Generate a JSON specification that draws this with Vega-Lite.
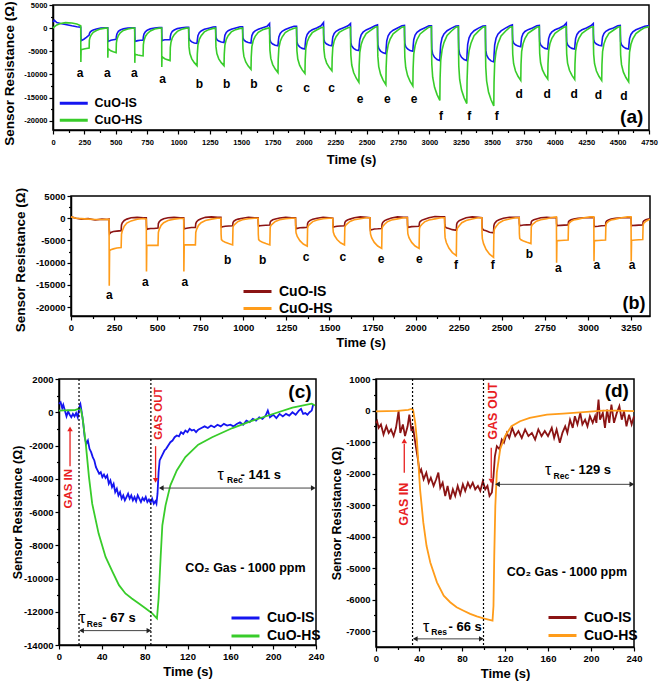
{
"$schema":"https://vega.github.io/schema/vega-lite/v6.json",
"background":"white",
"padding":{"left":0,"top":0,"right":0,"bottom":0},
"autosize":{"type":"pad"},
"columns":1,
"align":"none",
"bounds":"full",
"spacing":18,
"resolve":{"scale":{"color":"independent"},"legend":{"color":"independent"}},
"config":{
 "font":"Liberation Sans",
 "view":{"stroke":"black","strokeWidth":1.5},
 "axis":{"grid":false,"domainColor":"black","domainWidth":1.5,"tickColor":"black","tickWidth":1.2,"tickSize":4,"labelFont":"Liberation Sans","labelFontWeight":"bold","labelFontSize":9.5,"labelColor":"black","labelPadding":2,"labelFlush":false,"labelOverlap":false,"titleFont":"Liberation Sans","titleFontWeight":"bold","titleFontSize":13,"titleColor":"black","titlePadding":5},
 "legend":{"symbolType":"M-4,0H4","symbolSize":49,"symbolStrokeWidth":3,"labelFont":"Liberation Sans","labelFontWeight":"bold","labelColor":"black","labelOffset":14.5,"rowPadding":4,"padding":0},
 "text":{"font":"Liberation Sans","color":"black"}
},
"datasets":{
"A":[
{"t":0,"i":1300,"h":0},{"t":10,"i":1700,"h":300},{"t":30,"i":1200,"h":700},{"t":60,"i":1000,"h":1000},{"t":100,"i":800,"h":1200},{"t":150,"i":500,"h":1100},{"t":190,"i":300,"h":900},
{"t":221,"i":200,"h":500},{"t":222,"i":-1500,"h":-7300},{"t":224,"i":-2700,"h":-4700},{"t":231,"i":-2600,"h":-4600},{"t":246,"i":-2400,"h":-4500},{"t":266,"i":-2000,"h":-4400},{"t":288,"i":-1500,"h":-4300},{"t":290,"i":-1200,"h":-2600},{"t":295,"i":-900,"h":-2000},{"t":306,"i":-600,"h":-1400},{"t":321,"i":-400,"h":-900},{"t":346,"i":-200,"h":-500},{"t":381,"i":0,"h":-150},{"t":416,"i":100,"h":0},
{"t":436,"i":100,"h":0},{"t":437,"i":-1500,"h":-6400},{"t":439,"i":-2900,"h":-4400},{"t":446,"i":-2800,"h":-4600},{"t":461,"i":-2600,"h":-4900},{"t":481,"i":-2500,"h":-5100},{"t":503,"i":-2400,"h":-5300},{"t":505,"i":-1800,"h":-3200},{"t":510,"i":-1200,"h":-2400},{"t":521,"i":-700,"h":-1600},{"t":536,"i":-400,"h":-1000},{"t":561,"i":-150,"h":-500},{"t":596,"i":0,"h":-200},{"t":631,"i":100,"h":0},
{"t":651,"i":100,"h":0},{"t":652,"i":-1500,"h":-7500},{"t":654,"i":-2900,"h":-5600},{"t":661,"i":-2800,"h":-5700},{"t":676,"i":-2700,"h":-5800},{"t":696,"i":-2600,"h":-5900},{"t":718,"i":-2600,"h":-6000},{"t":720,"i":-1900,"h":-3600},{"t":725,"i":-1300,"h":-2700},{"t":736,"i":-800,"h":-1800},{"t":751,"i":-450,"h":-1200},{"t":776,"i":-150,"h":-600},{"t":811,"i":50,"h":-200},{"t":846,"i":150,"h":0},
{"t":866,"i":150,"h":0},{"t":867,"i":-1400,"h":-8400},{"t":869,"i":-2700,"h":-6100},{"t":876,"i":-2600,"h":-6300},{"t":891,"i":-2500,"h":-6600},{"t":911,"i":-2500,"h":-6800},{"t":933,"i":-2500,"h":-7000},{"t":935,"i":-1800,"h":-4200},{"t":940,"i":-1200,"h":-3100},{"t":951,"i":-700,"h":-2100},{"t":966,"i":-400,"h":-1400},{"t":991,"i":-100,"h":-700},{"t":1026,"i":100,"h":-250},{"t":1061,"i":200,"h":0},
{"t":1081,"i":200,"h":0},{"t":1082,"i":-990,"h":-2430},{"t":1084,"i":-2150,"h":-4050},{"t":1091,"i":-2640,"h":-5500},{"t":1106,"i":-2970,"h":-6640},{"t":1126,"i":-3200,"h":-7450},{"t":1148,"i":-3300,"h":-8100},{"t":1150,"i":-2640,"h":-5670},{"t":1155,"i":-1650,"h":-3650},{"t":1166,"i":-990,"h":-2430},{"t":1181,"i":-600,"h":-1620},{"t":1206,"i":-260,"h":-810},{"t":1241,"i":0,"h":-320},{"t":1276,"i":250,"h":-50},
{"t":1296,"i":300,"h":0},{"t":1297,"i":-930,"h":-2430},{"t":1299,"i":-2000,"h":-4050},{"t":1306,"i":-2480,"h":-5500},{"t":1321,"i":-2800,"h":-6640},{"t":1341,"i":-3000,"h":-7450},{"t":1363,"i":-3100,"h":-8100},{"t":1365,"i":-2480,"h":-5670},{"t":1370,"i":-1550,"h":-3650},{"t":1381,"i":-930,"h":-2430},{"t":1396,"i":-560,"h":-1620},{"t":1421,"i":-250,"h":-810},{"t":1456,"i":50,"h":-320},{"t":1491,"i":300,"h":-50},
{"t":1511,"i":300,"h":0},{"t":1512,"i":-960,"h":-2670},{"t":1514,"i":-2080,"h":-4450},{"t":1521,"i":-2560,"h":-6050},{"t":1536,"i":-2880,"h":-7300},{"t":1556,"i":-3100,"h":-8190},{"t":1578,"i":-3200,"h":-8900},{"t":1580,"i":-2560,"h":-6230},{"t":1585,"i":-1600,"h":-4000},{"t":1596,"i":-960,"h":-2670},{"t":1611,"i":-580,"h":-1780},{"t":1636,"i":-250,"h":-890},{"t":1671,"i":100,"h":-360},{"t":1706,"i":400,"h":-50},
{"t":1726,"i":1000,"h":100},{"t":1727,"i":-1140,"h":-2880},{"t":1729,"i":-2470,"h":-4800},{"t":1736,"i":-3040,"h":-6530},{"t":1751,"i":-3420,"h":-7870},{"t":1771,"i":-3690,"h":-8830},{"t":1793,"i":-3800,"h":-9600},{"t":1795,"i":-3040,"h":-6720},{"t":1800,"i":-1900,"h":-4320},{"t":1811,"i":-1140,"h":-2880},{"t":1826,"i":-680,"h":-1920},{"t":1851,"i":-300,"h":-960},{"t":1886,"i":100,"h":-380},{"t":1921,"i":400,"h":0},
{"t":1941,"i":400,"h":100},{"t":1942,"i":-1350,"h":-2940},{"t":1944,"i":-2930,"h":-4900},{"t":1951,"i":-3600,"h":-6660},{"t":1966,"i":-4050,"h":-8040},{"t":1986,"i":-4370,"h":-9020},{"t":2008,"i":-4500,"h":-9800},{"t":2010,"i":-3600,"h":-6860},{"t":2015,"i":-2250,"h":-4410},{"t":2026,"i":-1350,"h":-2940},{"t":2041,"i":-810,"h":-1960},{"t":2066,"i":-360,"h":-980},{"t":2101,"i":50,"h":-390},{"t":2136,"i":500,"h":100},
{"t":2156,"i":1200,"h":200},{"t":2157,"i":-1140,"h":-2760},{"t":2159,"i":-2470,"h":-4600},{"t":2166,"i":-3040,"h":-6260},{"t":2181,"i":-3420,"h":-7540},{"t":2201,"i":-3690,"h":-8460},{"t":2223,"i":-3800,"h":-9200},{"t":2225,"i":-3040,"h":-6440},{"t":2230,"i":-1900,"h":-4140},{"t":2241,"i":-1140,"h":-2760},{"t":2256,"i":-680,"h":-1840},{"t":2281,"i":-300,"h":-920},{"t":2316,"i":100,"h":-370},{"t":2351,"i":500,"h":100},
{"t":2371,"i":1000,"h":200},{"t":2372,"i":-1460,"h":-3510},{"t":2374,"i":-3150,"h":-5850},{"t":2381,"i":-3880,"h":-7960},{"t":2396,"i":-4370,"h":-9590},{"t":2416,"i":-4700,"h":-10760},{"t":2438,"i":-4850,"h":-11700},{"t":2440,"i":-3880,"h":-8190},{"t":2445,"i":-2430,"h":-5270},{"t":2456,"i":-1460,"h":-3510},{"t":2471,"i":-870,"h":-2340},{"t":2496,"i":-390,"h":-1170},{"t":2531,"i":50,"h":-470},{"t":2566,"i":500,"h":200},
{"t":2586,"i":700,"h":300},{"t":2587,"i":-1650,"h":-3660},{"t":2589,"i":-3580,"h":-6100},{"t":2596,"i":-4400,"h":-8300},{"t":2611,"i":-4950,"h":-10000},{"t":2631,"i":-5340,"h":-11220},{"t":2653,"i":-5500,"h":-12200},{"t":2655,"i":-4400,"h":-8540},{"t":2660,"i":-2750,"h":-5490},{"t":2671,"i":-1650,"h":-3660},{"t":2686,"i":-990,"h":-2440},{"t":2711,"i":-440,"h":-1220},{"t":2746,"i":50,"h":-490},{"t":2781,"i":500,"h":200},
{"t":2801,"i":600,"h":300},{"t":2802,"i":-1500,"h":-3750},{"t":2804,"i":-3250,"h":-6250},{"t":2811,"i":-4000,"h":-8500},{"t":2826,"i":-4500,"h":-10250},{"t":2846,"i":-4850,"h":-11500},{"t":2868,"i":-5000,"h":-12500},{"t":2870,"i":-4000,"h":-8750},{"t":2875,"i":-2500,"h":-5630},{"t":2886,"i":-1500,"h":-3750},{"t":2901,"i":-900,"h":-2500},{"t":2926,"i":-400,"h":-1250},{"t":2961,"i":50,"h":-500},{"t":2996,"i":500,"h":200},
{"t":3016,"i":500,"h":300},{"t":3017,"i":-2100,"h":-4680},{"t":3019,"i":-4550,"h":-7800},{"t":3026,"i":-5600,"h":-10610},{"t":3041,"i":-6300,"h":-12790},{"t":3061,"i":-6790,"h":-14350},{"t":3083,"i":-7000,"h":-15600},{"t":3085,"i":-5600,"h":-10920},{"t":3090,"i":-3500,"h":-7020},{"t":3101,"i":-2100,"h":-4680},{"t":3116,"i":-1260,"h":-3120},{"t":3141,"i":-560,"h":-1560},{"t":3176,"i":0,"h":-620},{"t":3211,"i":450,"h":200},
{"t":3231,"i":500,"h":300},{"t":3232,"i":-2100,"h":-4890},{"t":3234,"i":-4550,"h":-8150},{"t":3241,"i":-5600,"h":-11080},{"t":3256,"i":-6300,"h":-13370},{"t":3276,"i":-6790,"h":-15000},{"t":3298,"i":-7000,"h":-16300},{"t":3300,"i":-5600,"h":-11410},{"t":3305,"i":-3500,"h":-7340},{"t":3316,"i":-2100,"h":-4890},{"t":3331,"i":-1260,"h":-3260},{"t":3356,"i":-560,"h":-1630},{"t":3391,"i":0,"h":-650},{"t":3426,"i":450,"h":200},
{"t":3446,"i":500,"h":300},{"t":3447,"i":-2190,"h":-5040},{"t":3449,"i":-4750,"h":-8400},{"t":3456,"i":-5840,"h":-11420},{"t":3471,"i":-6570,"h":-13780},{"t":3491,"i":-7080,"h":-15460},{"t":3513,"i":-7300,"h":-16800},{"t":3515,"i":-5840,"h":-11760},{"t":3520,"i":-3650,"h":-7560},{"t":3531,"i":-2190,"h":-5040},{"t":3546,"i":-1310,"h":-3360},{"t":3571,"i":-580,"h":-1680},{"t":3606,"i":0,"h":-670},{"t":3641,"i":500,"h":200},
{"t":3661,"i":700,"h":300},{"t":3662,"i":-1200,"h":-3390},{"t":3664,"i":-2600,"h":-5650},{"t":3671,"i":-3200,"h":-7680},{"t":3686,"i":-3600,"h":-9270},{"t":3706,"i":-3880,"h":-10400},{"t":3728,"i":-4000,"h":-11300},{"t":3730,"i":-3200,"h":-7910},{"t":3735,"i":-2000,"h":-5090},{"t":3746,"i":-1200,"h":-3390},{"t":3761,"i":-720,"h":-2260},{"t":3786,"i":-320,"h":-1130},{"t":3821,"i":50,"h":-450},{"t":3856,"i":500,"h":200},
{"t":3876,"i":600,"h":300},{"t":3877,"i":-1350,"h":-3300},{"t":3879,"i":-2930,"h":-5500},{"t":3886,"i":-3600,"h":-7480},{"t":3901,"i":-4050,"h":-9020},{"t":3921,"i":-4370,"h":-10120},{"t":3943,"i":-4500,"h":-11000},{"t":3945,"i":-3600,"h":-7700},{"t":3950,"i":-2250,"h":-4950},{"t":3961,"i":-1350,"h":-3300},{"t":3976,"i":-810,"h":-2200},{"t":4001,"i":-360,"h":-1100},{"t":4036,"i":50,"h":-440},{"t":4071,"i":500,"h":200},
{"t":4091,"i":1100,"h":300},{"t":4092,"i":-1350,"h":-3330},{"t":4094,"i":-2930,"h":-5550},{"t":4101,"i":-3600,"h":-7550},{"t":4116,"i":-4050,"h":-9100},{"t":4136,"i":-4370,"h":-10210},{"t":4158,"i":-4500,"h":-11100},{"t":4160,"i":-3600,"h":-7770},{"t":4165,"i":-2250,"h":-5000},{"t":4176,"i":-1350,"h":-3330},{"t":4191,"i":-810,"h":-2220},{"t":4216,"i":-360,"h":-1110},{"t":4251,"i":50,"h":-440},{"t":4286,"i":500,"h":200},
{"t":4306,"i":1000,"h":300},{"t":4307,"i":-1140,"h":-3390},{"t":4309,"i":-2470,"h":-5650},{"t":4316,"i":-3040,"h":-7680},{"t":4331,"i":-3420,"h":-9270},{"t":4351,"i":-3690,"h":-10400},{"t":4373,"i":-3800,"h":-11300},{"t":4375,"i":-3040,"h":-7910},{"t":4380,"i":-1900,"h":-5090},{"t":4391,"i":-1140,"h":-3390},{"t":4406,"i":-680,"h":-2260},{"t":4431,"i":-300,"h":-1130},{"t":4466,"i":50,"h":-450},{"t":4501,"i":500,"h":200},
{"t":4521,"i":600,"h":300},{"t":4522,"i":-1350,"h":-3480},{"t":4524,"i":-2930,"h":-5800},{"t":4531,"i":-3600,"h":-7890},{"t":4546,"i":-4050,"h":-9510},{"t":4566,"i":-4370,"h":-10670},{"t":4588,"i":-4500,"h":-11600},{"t":4590,"i":-3600,"h":-8120},{"t":4595,"i":-2250,"h":-5220},{"t":4606,"i":-1350,"h":-3480},{"t":4621,"i":-810,"h":-2320},{"t":4646,"i":-360,"h":-1160},{"t":4681,"i":50,"h":-460},{"t":4716,"i":400,"h":100},{"t":4750,"i":550,"h":300}
],
"AL":[{"t":215,"v":-9760,"label":"a"},{"t":433,"v":-9760,"label":"a"},{"t":648,"v":-9760,"label":"a"},{"t":874,"v":-10900,"label":"a"},{"t":1166,"v":-11990,"label":"b"},{"t":1384,"v":-11990,"label":"b"},{"t":1602,"v":-11990,"label":"b"},{"t":1804,"v":-12850,"label":"c"},{"t":2022,"v":-12850,"label":"c"},{"t":2221,"v":-12850,"label":"c"},{"t":2447,"v":-15380,"label":"e"},{"t":2664,"v":-15380,"label":"e"},{"t":2877,"v":-15380,"label":"e"},{"t":3092,"v":-18980,"label":"f"},{"t":3318,"v":-18980,"label":"f"},{"t":3536,"v":-18980,"label":"f"},{"t":3716,"v":-14140,"label":"d"},{"t":3939,"v":-14140,"label":"d"},{"t":4154,"v":-14140,"label":"d"},{"t":4346,"v":-14400,"label":"d"},{"t":4551,"v":-14660,"label":"d"}],
"AP":[{"t":4612,"v":-19270,"label":"(a)"}],
"B":[
{"t":0,"i":300,"h":300},{"t":30,"i":0,"h":0},{"t":60,"i":-200,"h":-100},{"t":100,"i":-100,"h":-200},{"t":140,"i":-400,"h":-300},{"t":180,"i":-200,"h":-300},{"t":210,"i":-300,"h":-250},
{"t":221,"i":-200,"h":-250},{"t":222,"i":-2500,"h":-15200},{"t":224,"i":-3500,"h":-7300},{"t":231,"i":-3200,"h":-7100},{"t":246,"i":-3000,"h":-6900},{"t":266,"i":-2900,"h":-6700},{"t":291,"i":-2800,"h":-6600},{"t":293,"i":-1500,"h":-3600},{"t":298,"i":-1000,"h":-2800},{"t":309,"i":-500,"h":-1800},{"t":324,"i":-200,"h":-1100},{"t":349,"i":100,"h":-600},{"t":384,"i":200,"h":-250},{"t":419,"i":100,"h":-50},
{"t":437,"i":100,"h":-200},{"t":438,"i":-1600,"h":-12000},{"t":440,"i":-2500,"h":-6200},{"t":447,"i":-2400,"h":-6100},{"t":462,"i":-2300,"h":-6100},{"t":482,"i":-2300,"h":-6100},{"t":505,"i":-2200,"h":-6100},{"t":507,"i":-1200,"h":-3200},{"t":512,"i":-800,"h":-2500},{"t":523,"i":-400,"h":-1600},{"t":538,"i":-100,"h":-1000},{"t":563,"i":100,"h":-500},{"t":598,"i":200,"h":-200},{"t":633,"i":100,"h":-50},
{"t":654,"i":100,"h":-50},{"t":655,"i":-1600,"h":-12000},{"t":657,"i":-2400,"h":-6100},{"t":664,"i":-2300,"h":-6000},{"t":679,"i":-2200,"h":-6000},{"t":699,"i":-2100,"h":-6000},{"t":722,"i":-2100,"h":-6000},{"t":724,"i":-1200,"h":-3200},{"t":729,"i":-800,"h":-2500},{"t":740,"i":-400,"h":-1600},{"t":755,"i":-100,"h":-1000},{"t":780,"i":200,"h":-500},{"t":815,"i":300,"h":-200},{"t":850,"i":200,"h":0},
{"t":870,"i":200,"h":0},{"t":871,"i":-1400,"h":-3600},{"t":873,"i":-2000,"h":-4800},{"t":880,"i":-1900,"h":-5100},{"t":895,"i":-1800,"h":-5400},{"t":915,"i":-1760,"h":-5700},{"t":938,"i":-1700,"h":-6000},{"t":940,"i":-1000,"h":-2100},{"t":944,"i":-700,"h":-1600},{"t":955,"i":-400,"h":-1200},{"t":970,"i":-200,"h":-720},{"t":995,"i":0,"h":-360},{"t":1030,"i":200,"h":-120},{"t":1065,"i":100,"h":0},
{"t":1086,"i":100,"h":0},{"t":1087,"i":-1260,"h":-3600},{"t":1089,"i":-1800,"h":-4800},{"t":1096,"i":-1710,"h":-5100},{"t":1111,"i":-1620,"h":-5400},{"t":1131,"i":-1580,"h":-5700},{"t":1154,"i":-1530,"h":-6000},{"t":1156,"i":-900,"h":-2100},{"t":1160,"i":-630,"h":-1600},{"t":1171,"i":-360,"h":-1200},{"t":1186,"i":-180,"h":-720},{"t":1211,"i":50,"h":-360},{"t":1246,"i":200,"h":-120},{"t":1281,"i":100,"h":0},
{"t":1303,"i":100,"h":0},{"t":1304,"i":-1680,"h":-2200},{"t":1306,"i":-2400,"h":-3280},{"t":1313,"i":-2280,"h":-4100},{"t":1328,"i":-2160,"h":-5040},{"t":1348,"i":-2110,"h":-5800},{"t":1371,"i":-2040,"h":-6300},{"t":1373,"i":-1200,"h":-2200},{"t":1377,"i":-840,"h":-1700},{"t":1388,"i":-480,"h":-1260},{"t":1403,"i":-240,"h":-760},{"t":1428,"i":0,"h":-380},{"t":1463,"i":200,"h":-130},{"t":1498,"i":100,"h":0},
{"t":1519,"i":0,"h":0},{"t":1520,"i":-1400,"h":-2100},{"t":1522,"i":-2000,"h":-3120},{"t":1529,"i":-1900,"h":-3900},{"t":1544,"i":-1800,"h":-4800},{"t":1564,"i":-1760,"h":-5520},{"t":1587,"i":-1700,"h":-6000},{"t":1589,"i":-1000,"h":-2100},{"t":1593,"i":-700,"h":-1620},{"t":1604,"i":-400,"h":-1200},{"t":1619,"i":-200,"h":-720},{"t":1644,"i":100,"h":-360},{"t":1679,"i":300,"h":-120},{"t":1714,"i":200,"h":100},
{"t":1735,"i":100,"h":100},{"t":1736,"i":-1890,"h":-2380},{"t":1738,"i":-2700,"h":-3540},{"t":1745,"i":-2570,"h":-4420},{"t":1760,"i":-2430,"h":-5440},{"t":1780,"i":-2380,"h":-6260},{"t":1803,"i":-2300,"h":-6800},{"t":1805,"i":-1350,"h":-2380},{"t":1809,"i":-950,"h":-1840},{"t":1820,"i":-540,"h":-1360},{"t":1835,"i":-270,"h":-820},{"t":1860,"i":50,"h":-410},{"t":1895,"i":300,"h":-140},{"t":1930,"i":200,"h":100},
{"t":1952,"i":200,"h":100},{"t":1953,"i":-1470,"h":-2380},{"t":1955,"i":-2100,"h":-3540},{"t":1962,"i":-2000,"h":-4420},{"t":1977,"i":-1890,"h":-5440},{"t":1997,"i":-1850,"h":-6260},{"t":2020,"i":-1790,"h":-6800},{"t":2022,"i":-1050,"h":-2380},{"t":2026,"i":-740,"h":-1840},{"t":2037,"i":-420,"h":-1360},{"t":2052,"i":-210,"h":-820},{"t":2077,"i":100,"h":-410},{"t":2112,"i":400,"h":-140},{"t":2147,"i":300,"h":100},
{"t":2168,"i":300,"h":100},{"t":2169,"i":-1350,"h":-2940},{"t":2171,"i":-1890,"h":-4370},{"t":2178,"i":-2160,"h":-5460},{"t":2193,"i":-2300,"h":-6720},{"t":2213,"i":-2570,"h":-7730},{"t":2236,"i":-2700,"h":-8400},{"t":2238,"i":-1350,"h":-2940},{"t":2242,"i":-950,"h":-2270},{"t":2253,"i":-540,"h":-1680},{"t":2268,"i":-270,"h":-1010},{"t":2293,"i":100,"h":-500},{"t":2328,"i":300,"h":-170},{"t":2363,"i":200,"h":100},
{"t":2384,"i":100,"h":100},{"t":2385,"i":-1650,"h":-3080},{"t":2387,"i":-2310,"h":-4580},{"t":2394,"i":-2640,"h":-5720},{"t":2409,"i":-2800,"h":-7040},{"t":2429,"i":-3140,"h":-8100},{"t":2452,"i":-3300,"h":-8800},{"t":2454,"i":-1650,"h":-3080},{"t":2458,"i":-1160,"h":-2380},{"t":2469,"i":-660,"h":-1760},{"t":2484,"i":-330,"h":-1060},{"t":2509,"i":0,"h":-530},{"t":2544,"i":200,"h":-180},{"t":2579,"i":200,"h":100},
{"t":2601,"i":200,"h":100},{"t":2602,"i":-1190,"h":-3420},{"t":2604,"i":-1700,"h":-4560},{"t":2611,"i":-1620,"h":-4850},{"t":2626,"i":-1530,"h":-5130},{"t":2646,"i":-1500,"h":-5420},{"t":2669,"i":-1450,"h":-5700},{"t":2671,"i":-850,"h":-2000},{"t":2675,"i":-600,"h":-1540},{"t":2686,"i":-340,"h":-1140},{"t":2701,"i":-170,"h":-680},{"t":2726,"i":100,"h":-340},{"t":2761,"i":200,"h":-110},{"t":2796,"i":100,"h":200},
{"t":2817,"i":100,"h":300},{"t":2818,"i":-1200,"h":-10000},{"t":2820,"i":-1700,"h":-5100},{"t":2827,"i":-1650,"h":-5050},{"t":2842,"i":-1600,"h":-5000},{"t":2862,"i":-1550,"h":-4950},{"t":2885,"i":-1500,"h":-4900},{"t":2887,"i":-800,"h":-1500},{"t":2891,"i":-600,"h":-1100},{"t":2902,"i":-350,"h":-700},{"t":2917,"i":-200,"h":-400},{"t":2942,"i":0,"h":-200},{"t":2977,"i":100,"h":100},{"t":3012,"i":100,"h":300},
{"t":3034,"i":100,"h":300},{"t":3035,"i":-1300,"h":-9700},{"t":3037,"i":-1900,"h":-5100},{"t":3044,"i":-1850,"h":-5050},{"t":3059,"i":-1800,"h":-5000},{"t":3079,"i":-1700,"h":-4950},{"t":3102,"i":-1650,"h":-4900},{"t":3104,"i":-900,"h":-1500},{"t":3108,"i":-650,"h":-1100},{"t":3119,"i":-400,"h":-700},{"t":3134,"i":-200,"h":-400},{"t":3159,"i":0,"h":-200},{"t":3194,"i":100,"h":100},{"t":3229,"i":100,"h":300},
{"t":3250,"i":100,"h":300},{"t":3251,"i":-1200,"h":-9700},{"t":3253,"i":-1700,"h":-5000},{"t":3260,"i":-1650,"h":-4950},{"t":3275,"i":-1600,"h":-4900},{"t":3295,"i":-1550,"h":-4850},{"t":3318,"i":-1500,"h":-4800},{"t":3320,"i":-800,"h":-1500},{"t":3324,"i":-600,"h":-1100},{"t":3335,"i":-350,"h":-700},{"t":3350,"i":-200,"h":-400},{"t":3360,"i":-100,"h":-250}
],
"BL":[{"t":222,"v":-17365,"label":"a"},{"t":431,"v":-14370,"label":"a"},{"t":660,"v":-14370,"label":"a"},{"t":909,"v":-9480,"label":"b"},{"t":1113,"v":-9480,"label":"b"},{"t":1364,"v":-8740,"label":"c"},{"t":1577,"v":-8740,"label":"c"},{"t":1799,"v":-9260,"label":"e"},{"t":2021,"v":-9260,"label":"e"},{"t":2234,"v":-10600,"label":"f"},{"t":2447,"v":-10600,"label":"f"},{"t":2660,"v":-8000,"label":"b"},{"t":2828,"v":-11150,"label":"a"},{"t":3051,"v":-10470,"label":"a"},{"t":3256,"v":-10470,"label":"a"}],
"BP":[{"t":3267,"v":-19260,"label":"(b)"}],
"C":[
{"t":0,"v":500,"s":"i"},{"t":1.5,"v":600,"s":"i"},{"t":3,"v":250,"s":"i"},{"t":4,"v":450,"s":"i"},{"t":5.5,"v":100,"s":"i"},{"t":7,"v":-250,"s":"i"},{"t":8.5,"v":50,"s":"i"},{"t":10,"v":-150,"s":"i"},{"t":11.5,"v":-300,"s":"i"},{"t":13,"v":-100,"s":"i"},{"t":14.5,"v":-250,"s":"i"},{"t":16,"v":-50,"s":"i"},{"t":17.5,"v":-300,"s":"i"},{"t":19,"v":300,"s":"i"},{"t":20,"v":480,"s":"i"},{"t":21,"v":100,"s":"i"},{"t":22.5,"v":-600,"s":"i"},{"t":24,"v":-1500,"s":"i"},{"t":25.5,"v":-1900,"s":"i"},{"t":27,"v":-1700,"s":"i"},{"t":28.5,"v":-2200,"s":"i"},{"t":30,"v":-2400,"s":"i"},{"t":31.5,"v":-2700,"s":"i"},{"t":33,"v":-2900,"s":"i"},{"t":34.5,"v":-3300,"s":"i"},{"t":36,"v":-3500,"s":"i"},{"t":37.5,"v":-3700,"s":"i"},{"t":39,"v":-3600,"s":"i"},{"t":40.5,"v":-3900,"s":"i"},{"t":42,"v":-3750,"s":"i"},{"t":43.5,"v":-3950,"s":"i"},{"t":45,"v":-3800,"s":"i"},{"t":46.5,"v":-4300,"s":"i"},{"t":48,"v":-4100,"s":"i"},{"t":49.5,"v":-4500,"s":"i"},{"t":51,"v":-4300,"s":"i"},{"t":52.5,"v":-4800,"s":"i"},{"t":54,"v":-4600,"s":"i"},{"t":55.5,"v":-5000,"s":"i"},{"t":57,"v":-4800,"s":"i"},{"t":58.5,"v":-5200,"s":"i"},{"t":60,"v":-5000,"s":"i"},{"t":61.5,"v":-5300,"s":"i"},{"t":63,"v":-5100,"s":"i"},{"t":64.5,"v":-4900,"s":"i"},{"t":66,"v":-5200,"s":"i"},{"t":67.5,"v":-5000,"s":"i"},{"t":69,"v":-5300,"s":"i"},{"t":70.5,"v":-5100,"s":"i"},{"t":72,"v":-5350,"s":"i"},{"t":73.5,"v":-5000,"s":"i"},{"t":75,"v":-5200,"s":"i"},{"t":76.5,"v":-5400,"s":"i"},{"t":78,"v":-5150,"s":"i"},{"t":79.5,"v":-5300,"s":"i"},{"t":81,"v":-5100,"s":"i"},{"t":82.5,"v":-5400,"s":"i"},{"t":84,"v":-5250,"s":"i"},{"t":85.5,"v":-5450,"s":"i"},{"t":87,"v":-5200,"s":"i"},{"t":88.5,"v":-5500,"s":"i"},{"t":90,"v":-5350,"s":"i"},{"t":91,"v":-5500,"s":"i"},{"t":92,"v":-4900,"s":"i"},{"t":93,"v":-3600,"s":"i"},{"t":94,"v":-2900,"s":"i"},{"t":95.5,"v":-2700,"s":"i"},{"t":97,"v":-2500,"s":"i"},{"t":98.5,"v":-2300,"s":"i"},{"t":100,"v":-2200,"s":"i"},{"t":102,"v":-2000,"s":"i"},{"t":104,"v":-1800,"s":"i"},{"t":106,"v":-1700,"s":"i"},{"t":108,"v":-1500,"s":"i"},{"t":110,"v":-1400,"s":"i"},{"t":112,"v":-1450,"s":"i"},{"t":114,"v":-1200,"s":"i"},{"t":116,"v":-1300,"s":"i"},{"t":118,"v":-1100,"s":"i"},{"t":120,"v":-1200,"s":"i"},{"t":122,"v":-1000,"s":"i"},{"t":124,"v":-1100,"s":"i"},{"t":126,"v":-1050,"s":"i"},{"t":128,"v":-1200,"s":"i"},{"t":130,"v":-1050,"s":"i"},{"t":133,"v":-950,"s":"i"},{"t":136,"v":-850,"s":"i"},{"t":139,"v":-950,"s":"i"},{"t":142,"v":-800,"s":"i"},{"t":145,"v":-900,"s":"i"},{"t":148,"v":-750,"s":"i"},{"t":151,"v":-850,"s":"i"},{"t":154,"v":-700,"s":"i"},{"t":157,"v":-800,"s":"i"},{"t":160,"v":-750,"s":"i"},{"t":163,"v":-850,"s":"i"},{"t":166,"v":-700,"s":"i"},{"t":169,"v":-600,"s":"i"},{"t":172,"v":-750,"s":"i"},{"t":175,"v":-500,"s":"i"},{"t":178,"v":-600,"s":"i"},{"t":181,"v":-400,"s":"i"},{"t":184,"v":-500,"s":"i"},{"t":187,"v":-300,"s":"i"},{"t":190,"v":-400,"s":"i"},{"t":193,"v":-200,"s":"i"},{"t":195,"v":100,"s":"i"},{"t":197,"v":-300,"s":"i"},{"t":200,"v":-150,"s":"i"},{"t":203,"v":-350,"s":"i"},{"t":206,"v":-100,"s":"i"},{"t":209,"v":-250,"s":"i"},{"t":212,"v":-100,"s":"i"},{"t":215,"v":-200,"s":"i"},{"t":218,"v":0,"s":"i"},{"t":221,"v":-150,"s":"i"},{"t":224,"v":100,"s":"i"},{"t":226,"v":200,"s":"i"},{"t":228,"v":-100,"s":"i"},{"t":230,"v":-50,"s":"i"},{"t":232,"v":-150,"s":"i"},{"t":234,"v":0,"s":"i"},{"t":236,"v":100,"s":"i"},{"t":237.5,"v":500,"s":"i"},
{"t":0,"v":100,"s":"h"},{"t":5,"v":110,"s":"h"},{"t":10,"v":120,"s":"h"},{"t":15,"v":130,"s":"h"},{"t":18,"v":200,"s":"h"},{"t":19.5,"v":250,"s":"h"},{"t":20.5,"v":150,"s":"h"},{"t":22,"v":-320,"s":"h"},{"t":25,"v":-1900,"s":"h"},{"t":28,"v":-3900,"s":"h"},{"t":31,"v":-5500,"s":"h"},{"t":37,"v":-7300,"s":"h"},{"t":43.5,"v":-8700,"s":"h"},{"t":50,"v":-9600,"s":"h"},{"t":56,"v":-10400,"s":"h"},{"t":62,"v":-10900,"s":"h"},{"t":68,"v":-11200,"s":"h"},{"t":74.6,"v":-11500,"s":"h"},{"t":81,"v":-11800,"s":"h"},{"t":87,"v":-12100,"s":"h"},{"t":91.5,"v":-12400,"s":"h"},{"t":93,"v":-11200,"s":"h"},{"t":95,"v":-8600,"s":"h"},{"t":96.5,"v":-6800,"s":"h"},{"t":99.5,"v":-5600,"s":"h"},{"t":104,"v":-4400,"s":"h"},{"t":110,"v":-3500,"s":"h"},{"t":118,"v":-2700,"s":"h"},{"t":130,"v":-1950,"s":"h"},{"t":143,"v":-1500,"s":"h"},{"t":162,"v":-950,"s":"h"},{"t":180,"v":-520,"s":"h"},{"t":199,"v":-120,"s":"h"},{"t":218,"v":280,"s":"h"},{"t":236,"v":520,"s":"h"},{"t":239,"v":400,"s":"h"}
],
"CV":[{"t":18.7},{"t":85.8}],
"CArr":[{"t":10.3,"v":-3250,"v2":-1100,"k":"gas"},{"t":90.2,"v":-2040,"v2":-3950,"k":"gas"},{"t":20.5,"t2":84.5,"v":-13135,"k":"tau"},{"t":95,"t2":238,"v":-4560,"k":"tau"}],
"CHead":[{"t":10.3,"v":-1000,"dir":"up","k":"gas"},{"t":90.2,"v":-4100,"dir":"down","k":"gas"},{"t":21,"v":-13135,"dir":"left","k":"tau"},{"t":84,"v":-13135,"dir":"right","k":"tau"},{"t":95.5,"v":-4560,"dir":"left","k":"tau"},{"t":237.5,"v":-4560,"dir":"right","k":"tau"}],
"CN":[{"t":9.3,"v":-4600,"txt":"GAS IN","k":"gas"},{"t":93.6,"v":-80,"txt":"GAS OUT","k":"gas"},{"t":225,"v":1190,"txt":"(c)","k":"panel"},{"t":118,"v":-9360,"txt":"CO₂ Gas - 1000 ppm","k":"co2"},{"t":148,"v":-3750,"txt":"τ","k":"tau"},{"t":18.7,"v":-12390,"txt":"τ","k":"tau"},{"t":157,"v":-4100,"txt":"Rec","k":"sub"},{"t":26,"v":-12750,"txt":"Res","k":"sub"},{"t":169.5,"v":-3750,"txt":"- 141 s","k":"val"},{"t":40.5,"v":-12390,"txt":"- 67 s","k":"val"}],
"D":[
{"t":0,"v":-400,"s":"i"},{"t":1,"v":-340,"s":"i"},{"t":2.5,"v":-550,"s":"i"},{"t":4.6,"v":-440,"s":"i"},{"t":7,"v":-760,"s":"i"},{"t":9.6,"v":-500,"s":"i"},{"t":11.8,"v":-710,"s":"i"},{"t":14,"v":-600,"s":"i"},{"t":16.4,"v":-810,"s":"i"},{"t":18.6,"v":-550,"s":"i"},{"t":21,"v":-20,"s":"i"},{"t":22.6,"v":-710,"s":"i"},{"t":25,"v":-440,"s":"i"},{"t":27,"v":-810,"s":"i"},{"t":29.4,"v":-500,"s":"i"},{"t":31,"v":-130,"s":"i"},{"t":33,"v":-650,"s":"i"},{"t":34.4,"v":-500,"s":"i"},{"t":35.6,"v":-810,"s":"i"},{"t":37.5,"v":-1230,"s":"i"},{"t":39,"v":-1550,"s":"i"},{"t":40.6,"v":-1970,"s":"i"},{"t":42,"v":-1870,"s":"i"},{"t":44.3,"v":-2180,"s":"i"},{"t":46.8,"v":-1970,"s":"i"},{"t":49,"v":-2290,"s":"i"},{"t":51,"v":-2130,"s":"i"},{"t":53.6,"v":-2390,"s":"i"},{"t":56,"v":-2180,"s":"i"},{"t":58,"v":-1970,"s":"i"},{"t":59.8,"v":-2450,"s":"i"},{"t":62,"v":-2290,"s":"i"},{"t":64.4,"v":-2710,"s":"i"},{"t":66.6,"v":-2390,"s":"i"},{"t":69,"v":-2820,"s":"i"},{"t":71.5,"v":-2500,"s":"i"},{"t":73.7,"v":-2710,"s":"i"},{"t":76,"v":-2390,"s":"i"},{"t":78.4,"v":-2660,"s":"i"},{"t":80.8,"v":-2340,"s":"i"},{"t":83,"v":-2550,"s":"i"},{"t":85.5,"v":-2290,"s":"i"},{"t":87.6,"v":-2450,"s":"i"},{"t":90,"v":-2290,"s":"i"},{"t":92.3,"v":-2500,"s":"i"},{"t":94.8,"v":-2390,"s":"i"},{"t":97,"v":-2550,"s":"i"},{"t":99.4,"v":-2240,"s":"i"},{"t":101.6,"v":-2500,"s":"i"},{"t":103.7,"v":-2390,"s":"i"},{"t":105.6,"v":-2710,"s":"i"},{"t":107.8,"v":-2600,"s":"i"},{"t":109.3,"v":-2080,"s":"i"},{"t":110.6,"v":-1450,"s":"i"},{"t":112.4,"v":-1130,"s":"i"},{"t":115,"v":-1230,"s":"i"},{"t":117,"v":-920,"s":"i"},{"t":119,"v":-1020,"s":"i"},{"t":121.7,"v":-710,"s":"i"},{"t":124,"v":-870,"s":"i"},{"t":126.7,"v":-550,"s":"i"},{"t":129.5,"v":-810,"s":"i"},{"t":132.5,"v":-650,"s":"i"},{"t":135.6,"v":-870,"s":"i"},{"t":138.7,"v":-600,"s":"i"},{"t":141.8,"v":-810,"s":"i"},{"t":145,"v":-710,"s":"i"},{"t":148,"v":-920,"s":"i"},{"t":151,"v":-600,"s":"i"},{"t":154,"v":-810,"s":"i"},{"t":157,"v":-650,"s":"i"},{"t":160,"v":-810,"s":"i"},{"t":163.5,"v":-550,"s":"i"},{"t":165.7,"v":-870,"s":"i"},{"t":168,"v":-600,"s":"i"},{"t":171,"v":-1020,"s":"i"},{"t":173.4,"v":-710,"s":"i"},{"t":176,"v":-500,"s":"i"},{"t":178,"v":-710,"s":"i"},{"t":180.5,"v":-290,"s":"i"},{"t":183,"v":-550,"s":"i"},{"t":185,"v":-180,"s":"i"},{"t":187.4,"v":-440,"s":"i"},{"t":190,"v":-75,"s":"i"},{"t":192,"v":-440,"s":"i"},{"t":194.5,"v":-290,"s":"i"},{"t":196.7,"v":-500,"s":"i"},{"t":199,"v":-180,"s":"i"},{"t":201.6,"v":-390,"s":"i"},{"t":203.8,"v":-180,"s":"i"},{"t":205,"v":-390,"s":"i"},{"t":207,"v":350,"s":"i"},{"t":208.4,"v":-290,"s":"i"},{"t":211,"v":-75,"s":"i"},{"t":213,"v":-550,"s":"i"},{"t":215,"v":30,"s":"i"},{"t":217,"v":-390,"s":"i"},{"t":219,"v":190,"s":"i"},{"t":221.4,"v":-390,"s":"i"},{"t":224,"v":-75,"s":"i"},{"t":226.4,"v":140,"s":"i"},{"t":228.6,"v":-290,"s":"i"},{"t":230.7,"v":-20,"s":"i"},{"t":233,"v":-500,"s":"i"},{"t":235.4,"v":-130,"s":"i"},{"t":237.8,"v":-440,"s":"i"},{"t":240,"v":-180,"s":"i"},
{"t":0,"v":-30,"s":"h"},{"t":10,"v":-20,"s":"h"},{"t":20,"v":-10,"s":"h"},{"t":30,"v":20,"s":"h"},{"t":33,"v":50,"s":"h"},{"t":34.5,"v":20,"s":"h"},{"t":36.5,"v":-390,"s":"h"},{"t":38,"v":-920,"s":"h"},{"t":39.6,"v":-1760,"s":"h"},{"t":41,"v":-2500,"s":"h"},{"t":44,"v":-3550,"s":"h"},{"t":47,"v":-4290,"s":"h"},{"t":50.5,"v":-4820,"s":"h"},{"t":56.7,"v":-5450,"s":"h"},{"t":63,"v":-5870,"s":"h"},{"t":69,"v":-6080,"s":"h"},{"t":75,"v":-6240,"s":"h"},{"t":81.5,"v":-6350,"s":"h"},{"t":87.6,"v":-6450,"s":"h"},{"t":93.8,"v":-6530,"s":"h"},{"t":100,"v":-6590,"s":"h"},{"t":108.4,"v":-6660,"s":"h"},{"t":109.3,"v":-6190,"s":"h"},{"t":110,"v":-4610,"s":"h"},{"t":111,"v":-3030,"s":"h"},{"t":112.4,"v":-1970,"s":"h"},{"t":115.5,"v":-1230,"s":"h"},{"t":120,"v":-810,"s":"h"},{"t":126,"v":-500,"s":"h"},{"t":134,"v":-340,"s":"h"},{"t":143,"v":-230,"s":"h"},{"t":159,"v":-130,"s":"h"},{"t":174,"v":-100,"s":"h"},{"t":193,"v":-50,"s":"h"},{"t":211,"v":0,"s":"h"},{"t":224,"v":0,"s":"h"},{"t":240,"v":-20,"s":"h"}
],
"DV":[{"t":34},{"t":100}],
"DArr":[{"t":26.3,"v":-1970,"v2":-1050,"k":"gas"},{"t":107.2,"v":-1180,"v2":-2150,"k":"gas"},{"t":36,"t2":98.5,"v":-7242,"k":"tau"},{"t":112.5,"t2":238.5,"v":-2341,"k":"tau"}],
"DHead":[{"t":26.3,"v":-960,"dir":"up","k":"gas"},{"t":107.2,"v":-2240,"dir":"down","k":"gas"},{"t":36.5,"v":-7242,"dir":"left","k":"tau"},{"t":98,"v":-7242,"dir":"right","k":"tau"},{"t":113,"v":-2341,"dir":"left","k":"tau"},{"t":238,"v":-2341,"dir":"right","k":"tau"}],
"DN":[{"t":26.3,"v":-2974,"txt":"GAS IN","k":"gas"},{"t":109.3,"v":-20,"txt":"GAS OUT","k":"gas"},{"t":224,"v":610,"txt":"(d)","k":"panel"},{"t":121.7,"v":-5134,"txt":"CO₂ Gas - 1000 ppm","k":"co2"},{"t":157.3,"v":-1900,"txt":"τ","k":"tau"},{"t":43.7,"v":-6873,"txt":"τ","k":"tau"},{"t":165.2,"v":-2080,"txt":"Rec","k":"sub"},{"t":51.5,"v":-7040,"txt":"Res","k":"sub"},{"t":181,"v":-1900,"txt":"- 129 s","k":"val"},{"t":67.5,"v":-6873,"txt":"- 66 s","k":"val"}]
},
"concat":[
{"hconcat":[
 {"width":0.5,"height":1,"data":{"values":[]},"mark":"point","view":{"stroke":null}},
 {"width":596,"height":125,
 "layer":[
  {"data":{"name":"A"},"transform":[{"fold":["i","h"],"as":["s","v"]}],"mark":{"type":"line","strokeWidth":1.6},
   "encoding":{
    "x":{"field":"t","type":"quantitative","scale":{"domain":[0,4750],"nice":false,"zero":false},"axis":{"values":[0,250,500,750,1000,1250,1500,1750,2000,2250,2500,2750,3000,3250,3500,3750,4000,4250,4500,4750],"labelExpr":"datum.value + ''","labelFontSize":7.5,"labelPadding":4,"titlePadding":8,"title":"Time (s)"}},
    "y":{"field":"v","type":"quantitative","scale":{"domain":[-22000,5000],"nice":false,"zero":false},"axis":{"values":[5000,0,-5000,-10000,-15000,-20000],"labelExpr":"datum.value + ''","labelFontSize":7.5,"title":"Sensor Resistance (Ω)","titleFontSize":13.5,"titleX":-44,"titleY":68,"titleBaseline":"middle"}},
    "color":{"field":"s","type":"nominal","scale":{"domain":["i","h"],"range":["#1515f0","#38cc2a"]},"legend":{"title":null,"orient":"none","legendX":14.5,"legendY":92,"labelFontSize":12.5,"labelExpr":"datum.label == 'i' ? 'CuO-IS' : 'CuO-HS'"}}}},
  {"data":{"name":"AL"},"mark":{"type":"text","fontWeight":"bold","fontSize":12},
   "encoding":{
    "x":{"field":"t","type":"quantitative","axis":{"orient":"bottom","values":[125,375,625,875,1125,1375,1625,1875,2125,2375,2625,2875,3125,3375,3625,3875,4125,4375,4625],"labels":false,"domain":false,"tickSize":2.5,"title":null}},
    "y":{"field":"v","type":"quantitative","axis":{"orient":"left","values":[2500,-2500,-7500,-12500,-17500],"labels":false,"domain":false,"tickSize":2.5,"title":null}},
    "text":{"field":"label"}}},
  {"data":{"name":"AP"},"mark":{"type":"text","fontWeight":"bold","fontSize":19},
   "encoding":{"x":{"field":"t","type":"quantitative","axis":null},"y":{"field":"v","type":"quantitative","axis":null},"text":{"field":"label"}}}
 ],
 "resolve":{"axis":{"x":"independent","y":"independent"}}
 }
],"spacing":0,"resolve":{"scale":{"color":"independent"},"legend":{"color":"independent"}}},
{"hconcat":[
 {"width":11.25,"height":1,"data":{"values":[]},"mark":"point","view":{"stroke":null}},
 {"width":579,"height":120,
 "layer":[
  {"data":{"name":"B"},"transform":[{"fold":["i","h"],"as":["s","v"]}],"mark":{"type":"line","strokeWidth":1.6},
   "encoding":{
    "x":{"field":"t","type":"quantitative","scale":{"domain":[0,3360],"nice":false,"zero":false},"axis":{"values":[0,250,500,750,1000,1250,1500,1750,2000,2250,2500,2750,3000,3250],"labelExpr":"datum.value + ''","title":"Time (s)"}},
    "y":{"field":"v","type":"quantitative","scale":{"domain":[-22000,5000],"nice":false,"zero":false},"axis":{"values":[5000,0,-5000,-10000,-15000,-20000],"labelExpr":"datum.value + ''","title":"Sensor Resistance (Ω)","titleFontSize":13.5,"titleX":-51,"titleY":63.5,"titleBaseline":"middle"}},
    "color":{"field":"s","type":"nominal","scale":{"domain":["i","h"],"range":["#8b1414","#ff9c1a"]},"legend":{"title":null,"orient":"none","legendX":179.5,"legendY":88.5,"labelFontSize":14,"rowPadding":3,"labelExpr":"datum.label == 'i' ? 'CuO-IS' : 'CuO-HS'"}}}},
  {"data":{"name":"BL"},"mark":{"type":"text","fontWeight":"bold","fontSize":12},
   "encoding":{
    "x":{"field":"t","type":"quantitative","axis":{"orient":"bottom","values":[125,375,625,875,1125,1375,1625,1875,2125,2375,2625,2875,3125],"labels":false,"domain":false,"tickSize":2.5,"title":null}},
    "y":{"field":"v","type":"quantitative","axis":{"orient":"left","values":[2500,-2500,-7500,-12500,-17500],"labels":false,"domain":false,"tickSize":2.5,"title":null}},
    "text":{"field":"label"}}},
  {"data":{"name":"BP"},"mark":{"type":"text","fontWeight":"bold","fontSize":18},
   "encoding":{"x":{"field":"t","type":"quantitative","axis":null},"y":{"field":"v","type":"quantitative","axis":null},"text":{"field":"label"}}}
 ],
 "resolve":{"axis":{"x":"independent","y":"independent"}}
 }
],"spacing":0,"resolve":{"scale":{"color":"independent"},"legend":{"color":"independent"}}},
{"hconcat":[
 {"width":9.25,"height":1,"title":{"text":".","color":"white","fontSize":5,"offset":4.5},"data":{"values":[]},"mark":"point","view":{"stroke":null}},
 {"width":257,"height":266,
 "layer":[
  {"data":{"name":"C"},"mark":{"type":"line","strokeWidth":1.8},
   "encoding":{
    "x":{"field":"t","type":"quantitative","scale":{"domain":[0,240],"nice":false,"zero":false},"axis":{"values":[0,40,80,120,160,200,240],"labelExpr":"datum.value + ''","title":"Time (s)"}},
    "y":{"field":"v","type":"quantitative","scale":{"domain":[-14000,2000],"nice":false,"zero":false},"axis":{"values":[2000,0,-2000,-4000,-6000,-8000,-10000,-12000,-14000],"labelExpr":"datum.value + ''","title":"Sensor Resistance (Ω)","titleFontSize":12.5,"titleX":-41.5,"titleBaseline":"middle"}},
    "color":{"field":"s","type":"nominal","scale":{"domain":["i","h"],"range":["#1515f0","#38cc2a"]},"legend":{"title":null,"orient":"none","legendX":179.5,"legendY":232,"labelFontSize":14,"labelExpr":"datum.label == 'i' ? 'CuO-IS' : 'CuO-HS'"}}}},
  {"data":{"name":"CV"},"mark":{"type":"rule","strokeDash":[2,2],"color":"black","strokeWidth":1.2},
   "encoding":{"x":{"field":"t","type":"quantitative","axis":{"orient":"bottom","values":[20,60,100,140,180,220],"labels":false,"domain":false,"tickSize":2.5,"title":null}}}},
  {"data":{"name":"CArr"},"transform":[{"filter":"datum.k == 'gas'"}],"mark":{"type":"rule","color":"#e8201f","strokeWidth":1.3},
   "encoding":{"x":{"field":"t","type":"quantitative","axis":null},"y":{"field":"v","type":"quantitative","axis":{"orient":"left","values":[1000,-1000,-3000,-5000,-7000,-9000,-11000,-13000],"labels":false,"domain":false,"tickSize":2.5,"title":null}},"y2":{"field":"v2"}}},
  {"data":{"name":"CArr"},"transform":[{"filter":"datum.k == 'tau'"}],"mark":{"type":"rule","color":"#444444","strokeWidth":1},
   "encoding":{"x":{"field":"t","type":"quantitative","axis":null},"x2":{"field":"t2"},"y":{"field":"v","type":"quantitative","axis":null}}},
  {"data":{"name":"CHead"},"transform":[{"filter":"datum.k == 'gas'"}],"mark":{"type":"point","filled":true,"size":30,"opacity":1,"color":"#e8201f"},
   "encoding":{"x":{"field":"t","type":"quantitative","axis":null},"y":{"field":"v","type":"quantitative","axis":null},"shape":{"field":"dir","type":"nominal","scale":{"domain":["up","down","left","right"],"range":["triangle-up","triangle-down","triangle-left","triangle-right"]},"legend":null}}},
  {"data":{"name":"CHead"},"transform":[{"filter":"datum.k == 'tau'"}],"mark":{"type":"point","filled":true,"size":30,"opacity":1,"color":"#222222"},
   "encoding":{"x":{"field":"t","type":"quantitative","axis":null},"y":{"field":"v","type":"quantitative","axis":null},"shape":{"field":"dir","type":"nominal","scale":{"domain":["up","down","left","right"],"range":["triangle-up","triangle-down","triangle-left","triangle-right"]},"legend":null}}},
  {"data":{"name":"CN"},"transform":[{"filter":"datum.k == 'gas'"}],"mark":{"type":"text","angle":270,"color":"#e8201f","fontWeight":"bold","fontSize":11.5,"align":"center","baseline":"middle"},
   "encoding":{"x":{"field":"t","type":"quantitative","axis":null},"y":{"field":"v","type":"quantitative","axis":null},"text":{"field":"txt"}}},
  {"data":{"name":"CN"},"transform":[{"filter":"datum.k == 'panel'"}],"mark":{"type":"text","fontWeight":"bold","fontSize":19,"align":"center","baseline":"middle"},
   "encoding":{"x":{"field":"t","type":"quantitative","axis":null},"y":{"field":"v","type":"quantitative","axis":null},"text":{"field":"txt"}}},
  {"data":{"name":"CN"},"transform":[{"filter":"datum.k == 'co2'"}],"mark":{"type":"text","fontWeight":"bold","fontSize":12.5,"align":"left","baseline":"middle"},
   "encoding":{"x":{"field":"t","type":"quantitative","axis":null},"y":{"field":"v","type":"quantitative","axis":null},"text":{"field":"txt"}}},
  {"data":{"name":"CN"},"transform":[{"filter":"datum.k == 'tau'"}],"mark":{"type":"text","fontSize":16,"align":"left","baseline":"middle"},
   "encoding":{"x":{"field":"t","type":"quantitative","axis":null},"y":{"field":"v","type":"quantitative","axis":null},"text":{"field":"txt"}}},
  {"data":{"name":"CN"},"transform":[{"filter":"datum.k == 'sub'"}],"mark":{"type":"text","fontWeight":"bold","fontSize":8.5,"align":"left","baseline":"middle"},
   "encoding":{"x":{"field":"t","type":"quantitative","axis":null},"y":{"field":"v","type":"quantitative","axis":null},"text":{"field":"txt"}}},
  {"data":{"name":"CN"},"transform":[{"filter":"datum.k == 'val'"}],"mark":{"type":"text","fontWeight":"bold","fontSize":13,"align":"left","baseline":"middle"},
   "encoding":{"x":{"field":"t","type":"quantitative","axis":null},"y":{"field":"v","type":"quantitative","axis":null},"text":{"field":"txt"}}}
 ],
 "resolve":{"axis":{"x":"independent","y":"independent"}}
 },
 {"width":3.15,"height":1,"data":{"values":[]},"mark":"point","view":{"stroke":null}},
 {"width":258,"height":268,
 "layer":[
  {"data":{"name":"D"},"mark":{"type":"line","strokeWidth":1.8},
   "encoding":{
    "x":{"field":"t","type":"quantitative","scale":{"domain":[0,240],"nice":false,"zero":false},"axis":{"values":[0,40,80,120,160,200,240],"labelExpr":"datum.value + ''","title":"Time (s)"}},
    "y":{"field":"v","type":"quantitative","scale":{"domain":[-7500,1000],"nice":false,"zero":false},"axis":{"values":[1000,0,-1000,-2000,-3000,-4000,-5000,-6000,-7000],"labelExpr":"datum.value + ''","title":"Sensor Resistance (Ω)","titleFontSize":12.5,"titleX":-39.7,"titleBaseline":"middle"}},
    "color":{"field":"s","type":"nominal","scale":{"domain":["i","h"],"range":["#8b1414","#ff9c1a"]},"legend":{"title":null,"orient":"none","legendX":179.5,"legendY":231.5,"labelFontSize":14,"labelExpr":"datum.label == 'i' ? 'CuO-IS' : 'CuO-HS'"}}}},
  {"data":{"name":"DV"},"mark":{"type":"rule","strokeDash":[2,2],"color":"black","strokeWidth":1.2},
   "encoding":{"x":{"field":"t","type":"quantitative","axis":{"orient":"bottom","values":[20,60,100,140,180,220],"labels":false,"domain":false,"tickSize":2.5,"title":null}}}},
  {"data":{"name":"DArr"},"transform":[{"filter":"datum.k == 'gas'"}],"mark":{"type":"rule","color":"#e8201f","strokeWidth":1.3},
   "encoding":{"x":{"field":"t","type":"quantitative","axis":null},"y":{"field":"v","type":"quantitative","axis":{"orient":"left","values":[500,-500,-1500,-2500,-3500,-4500,-5500,-6500],"labels":false,"domain":false,"tickSize":2.5,"title":null}},"y2":{"field":"v2"}}},
  {"data":{"name":"DArr"},"transform":[{"filter":"datum.k == 'tau'"}],"mark":{"type":"rule","color":"#444444","strokeWidth":1},
   "encoding":{"x":{"field":"t","type":"quantitative","axis":null},"x2":{"field":"t2"},"y":{"field":"v","type":"quantitative","axis":null}}},
  {"data":{"name":"DHead"},"transform":[{"filter":"datum.k == 'gas'"}],"mark":{"type":"point","filled":true,"size":30,"opacity":1,"color":"#e8201f"},
   "encoding":{"x":{"field":"t","type":"quantitative","axis":null},"y":{"field":"v","type":"quantitative","axis":null},"shape":{"field":"dir","type":"nominal","scale":{"domain":["up","down","left","right"],"range":["triangle-up","triangle-down","triangle-left","triangle-right"]},"legend":null}}},
  {"data":{"name":"DHead"},"transform":[{"filter":"datum.k == 'tau'"}],"mark":{"type":"point","filled":true,"size":30,"opacity":1,"color":"#222222"},
   "encoding":{"x":{"field":"t","type":"quantitative","axis":null},"y":{"field":"v","type":"quantitative","axis":null},"shape":{"field":"dir","type":"nominal","scale":{"domain":["up","down","left","right"],"range":["triangle-up","triangle-down","triangle-left","triangle-right"]},"legend":null}}},
  {"data":{"name":"DN"},"transform":[{"filter":"datum.k == 'gas'"}],"mark":{"type":"text","angle":270,"color":"#e8201f","fontWeight":"bold","fontSize":12.5,"align":"center","baseline":"middle"},
   "encoding":{"x":{"field":"t","type":"quantitative","axis":null},"y":{"field":"v","type":"quantitative","axis":null},"text":{"field":"txt"}}},
  {"data":{"name":"DN"},"transform":[{"filter":"datum.k == 'panel'"}],"mark":{"type":"text","fontWeight":"bold","fontSize":19,"align":"center","baseline":"middle"},
   "encoding":{"x":{"field":"t","type":"quantitative","axis":null},"y":{"field":"v","type":"quantitative","axis":null},"text":{"field":"txt"}}},
  {"data":{"name":"DN"},"transform":[{"filter":"datum.k == 'co2'"}],"mark":{"type":"text","fontWeight":"bold","fontSize":12.5,"align":"left","baseline":"middle"},
   "encoding":{"x":{"field":"t","type":"quantitative","axis":null},"y":{"field":"v","type":"quantitative","axis":null},"text":{"field":"txt"}}},
  {"data":{"name":"DN"},"transform":[{"filter":"datum.k == 'tau'"}],"mark":{"type":"text","fontSize":16,"align":"left","baseline":"middle"},
   "encoding":{"x":{"field":"t","type":"quantitative","axis":null},"y":{"field":"v","type":"quantitative","axis":null},"text":{"field":"txt"}}},
  {"data":{"name":"DN"},"transform":[{"filter":"datum.k == 'sub'"}],"mark":{"type":"text","fontWeight":"bold","fontSize":8.5,"align":"left","baseline":"middle"},
   "encoding":{"x":{"field":"t","type":"quantitative","axis":null},"y":{"field":"v","type":"quantitative","axis":null},"text":{"field":"txt"}}},
  {"data":{"name":"DN"},"transform":[{"filter":"datum.k == 'val'"}],"mark":{"type":"text","fontWeight":"bold","fontSize":13,"align":"left","baseline":"middle"},
   "encoding":{"x":{"field":"t","type":"quantitative","axis":null},"y":{"field":"v","type":"quantitative","axis":null},"text":{"field":"txt"}}}
 ],
 "resolve":{"axis":{"x":"independent","y":"independent"}}
 }
],"spacing":0,"resolve":{"scale":{"color":"independent"},"legend":{"color":"independent"}}}
]
}
